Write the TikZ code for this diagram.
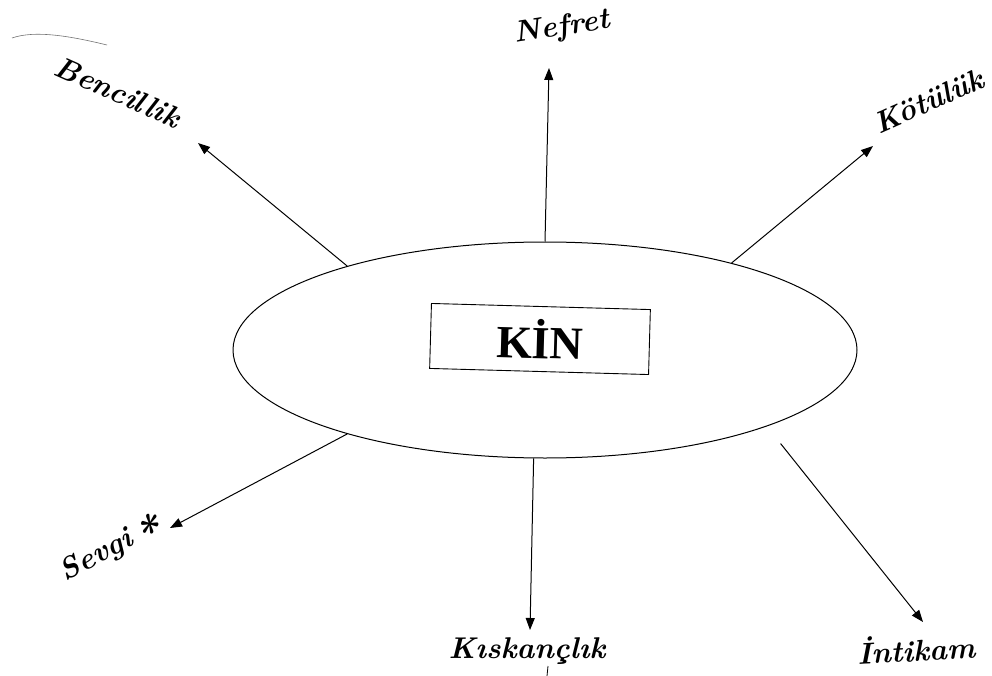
\documentclass[tikz,border=0pt]{standalone}
\usepackage{fontspec}
\newfontfamily\boxfont{Liberation Serif}
\usetikzlibrary{arrows.meta,shapes.geometric}

\begin{document}
\begin{tikzpicture}[x=1pt,y=-1pt,
  hand/.style={font=\fontsize{30}{32}\selectfont\bfseries\itshape, inner sep=0pt},
  arr/.style={line width=1pt, -{Triangle[length=12pt,width=9pt]}},
]
\useasboundingbox (0,0) rectangle (992,676);
\fill[white] (0,0) rectangle (992,676);

% central ellipse and the boxed title
\node[ellipse, draw, line width=1pt, minimum width=624pt, minimum height=216pt, inner sep=0pt] (kin) at (545,350) {};
\node[draw, line width=0.9pt, minimum width=219pt, minimum height=65pt, rotate=-1.6,
      font=\boxfont\bfseries\fontsize{46}{46}\selectfont] (box) at (540,339) {KİN};

% arrow tips
\coordinate (tB) at (198,143);
\coordinate (tN) at (549,68);
\coordinate (tK) at (873,146);
\coordinate (tI) at (923,622);
\coordinate (tKs) at (530,630);
\coordinate (tS) at (170,528);

% handwritten labels
\node[hand, rotate=-24] (lB) at (118,92) {Bencillik};
\node[hand, rotate=9] (lN) at (562,28) {Nefret};
\node[hand, rotate=24] (lK) at (929,101) {Kötülük};
\node[hand, rotate=28] (lS) at (112,552) {Sevgi\,\raisebox{-0.9ex}{\fontsize{44}{44}\selectfont *}};
\node[hand] (lKs) at (527,651) {Kıskançlık};
\node[hand, rotate=3] (lI) at (916,648) {İntikam};

% connectors
\draw[arr] (kin.157) -- (tB);
\draw[arr] (kin.90) -- (tN);
\draw[arr] (kin.25.6) -- (tK);
\draw[arr, shorten <=22pt] (kin.-19.5) -- (tI);
\draw[arr] (kin.-96.9) -- (tKs);
\draw[arr] (kin.203.7) -- (tS);

% stray pen marks
\draw[black!55, line width=0.6pt] (12,38) .. controls (35,30) and (70,36) .. (107,45);
\draw[line width=0.8pt] (548,666) -- (547,676);
\end{tikzpicture}
\end{document}
